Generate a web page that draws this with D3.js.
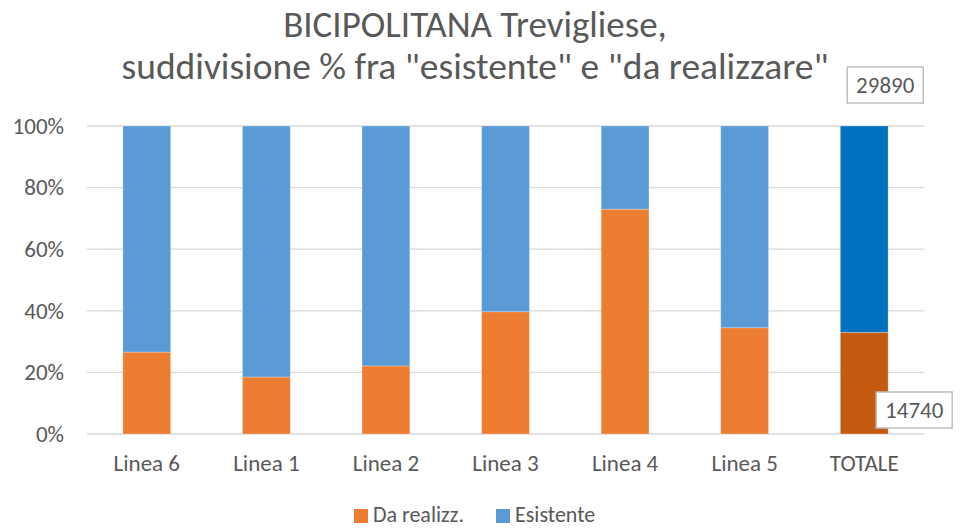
<!DOCTYPE html>
<html>
<head>
<meta charset="utf-8">
<script src="https://cdn.jsdelivr.net/npm/d3@7"></script>
<style>
  body { margin: 0; background: #fff; }
  text { font-family: Carlito, "Open Sans", "Liberation Sans", sans-serif; fill: #595959; }
</style>
</head>
<body>
<script>
// data (share of each line)
const categories = ["Linea 6", "Linea 1", "Linea 2", "Linea 3", "Linea 4", "Linea 5", "TOTALE"];
const daRealizz = [26.6, 18.5, 22.1, 39.7, 73.0, 34.5, 33.0];
const esistente = [73.4, 81.5, 77.9, 60.3, 27.0, 65.5, 67.0];
const yTicks = [0, 20, 40, 60, 80, 100];
const totLabels = { esistente: 29890, daRealizz: 14740 };

document.addEventListener("DOMContentLoaded", () => {
    const width = 960, height = 528;
    const plot = { left: 87, right: 924, top: 126, bottom: 434 };

    const svg = d3.select("body").append("svg")
        .attr("width", width)
        .attr("height", height);

    const x = d3.scaleBand().domain(categories)
        .range([plot.left, plot.right])
        .paddingInner(0.6).paddingOuter(0.3);
    const y = d3.scaleLinear().domain([0, 100]).range([plot.bottom, plot.top]);

    // title
    svg.append("text").attr("x", 475).attr("y", 37)
        .attr("text-anchor", "middle").style("font-size", "37px")
        .text("BICIPOLITANA Trevigliese,");
    svg.append("text").attr("x", 475).attr("y", 79)
        .attr("text-anchor", "middle").style("font-size", "37.5px")
        .text('suddivisione % fra "esistente" e "da realizzare"');

    // grid
    svg.append("g").selectAll("line").data(yTicks).enter().append("line")
        .attr("x1", plot.left).attr("x2", plot.right)
        .attr("y1", d => y(d)).attr("y2", d => y(d))
        .attr("stroke", "#d9d9d9").attr("stroke-width", 1.3);

    const yAxis = svg.append("g")
        .attr("transform", `translate(${plot.left},0)`)
        .call(d3.axisLeft(y).tickValues(yTicks).tickFormat(d => d + "%").tickSize(0).tickPadding(23));
    yAxis.select(".domain").remove();
    yAxis.selectAll("text").style("font-size", "23px").attr("fill", "#595959");

    const xAxis = svg.append("g")
        .attr("transform", `translate(0,${plot.bottom})`)
        .call(d3.axisBottom(x).tickSize(0).tickPadding(21));
    xAxis.select(".domain").remove();
    xAxis.selectAll("text").style("font-size", "23px").attr("fill", "#595959");

    const colOr = (c) => c === "TOTALE" ? "#c55a11" : "#ed7d31";
    const colBl = (c) => c === "TOTALE" ? "#0070c0" : "#5b9bd5";

    const bars = svg.append("g");
    bars.selectAll(".or").data(categories).enter().append("rect")
        .attr("x", d => x(d)).attr("width", x.bandwidth())
        .attr("y", (d, i) => y(daRealizz[i]))
        .attr("height", (d, i) => y(0) - y(daRealizz[i]))
        .attr("fill", d => colOr(d))
        .attr("stroke", "#fff").attr("stroke-opacity", 0.35).attr("stroke-width", 0.8);
    bars.selectAll(".bl").data(categories).enter().append("rect")
        .attr("x", d => x(d)).attr("width", x.bandwidth())
        .attr("y", (d, i) => y(daRealizz[i] + esistente[i]))
        .attr("height", (d, i) => y(daRealizz[i]) - y(daRealizz[i] + esistente[i]))
        .attr("fill", d => colBl(d))
        .attr("stroke", "#fff").attr("stroke-opacity", 0.35).attr("stroke-width", 0.8);

    // value boxes on TOTALE
    function box(cx, cy, txt) {
        const g = svg.append("g");
        g.append("rect").attr("x", cx - 38).attr("y", cy - 18).attr("width", 76).attr("height", 36)
            .attr("fill", "#fff").attr("stroke", "#bfbfbf").attr("stroke-width", 1.5);
        g.append("text").attr("x", cx).attr("y", cy + 8).attr("text-anchor", "middle")
            .style("font-size", "23px").text(txt);
    }
    const xt = x("TOTALE") + x.bandwidth() / 2;
    box(xt + 21, 85, totLabels.esistente);
    box(xt + 50, 410, totLabels.daRealizz);

    // legend
    const legend = [["Da realizz.", "#ed7d31", 354], ["Esistente", "#5b9bd5", 496]];
    legend.forEach(([name, c, lx]) => {
        svg.append("rect").attr("x", lx).attr("y", 509).attr("width", 14).attr("height", 14).attr("fill", c);
        svg.append("text").attr("x", lx + 19).attr("y", 522).style("font-size", "22px").text(name);
    });
});
</script>
</body>
</html>
